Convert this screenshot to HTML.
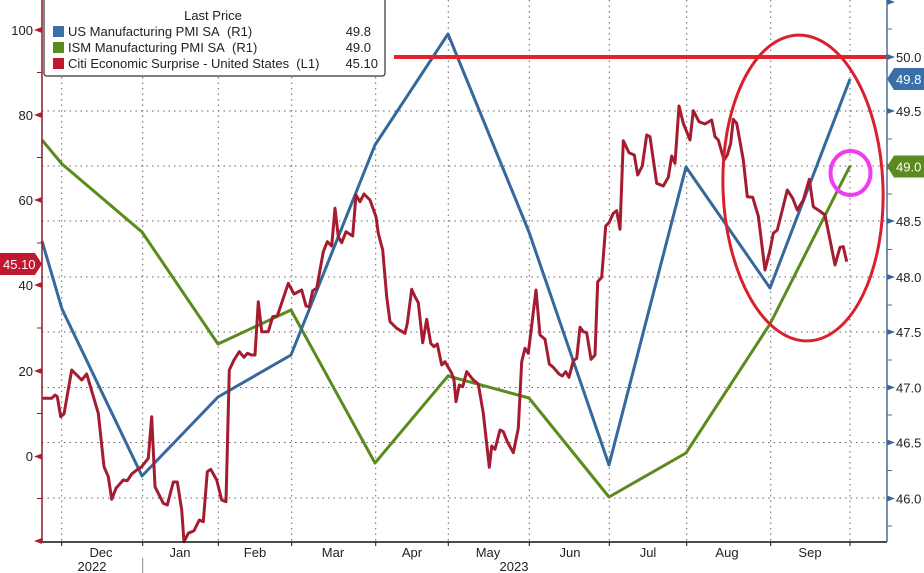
<!DOCTYPE html>
<html>
<head>
<meta charset="utf-8">
<style>
html,body{margin:0;padding:0;background:#fff;}
svg{display:block;font-family:"Liberation Sans","DejaVu Sans",sans-serif;}
</style>
</head>
<body>
<svg width="924" height="573" viewBox="0 0 924 573" xmlns="http://www.w3.org/2000/svg">
<rect width="924" height="573" fill="#fff"/>
<!-- vertical gridlines -->
<g stroke="#666" stroke-width="1" stroke-dasharray="1.5 4">
<line x1="61.7" y1="0" x2="61.7" y2="542"/>
<line x1="142.7" y1="0" x2="142.7" y2="542"/>
<line x1="218.3" y1="0" x2="218.3" y2="542"/>
<line x1="291.7" y1="0" x2="291.7" y2="542"/>
<line x1="375.7" y1="0" x2="375.7" y2="542"/>
<line x1="448.3" y1="0" x2="448.3" y2="542"/>
<line x1="529.3" y1="0" x2="529.3" y2="542"/>
<line x1="609.3" y1="0" x2="609.3" y2="542"/>
<line x1="686.7" y1="0" x2="686.7" y2="542"/>
<line x1="770.7" y1="0" x2="770.7" y2="542"/>
<line x1="850" y1="0" x2="850" y2="542"/>
</g>
<!-- horizontal gridlines -->
<g stroke="#666" stroke-width="1" stroke-dasharray="1.5 4">
<line x1="42" y1="111" x2="887" y2="111"/>
<line x1="42" y1="166" x2="887" y2="166"/>
<line x1="42" y1="221" x2="887" y2="221"/>
<line x1="42" y1="277" x2="887" y2="277"/>
<line x1="42" y1="332" x2="887" y2="332"/>
<line x1="42" y1="387.5" x2="887" y2="387.5"/>
<line x1="42" y1="442.5" x2="887" y2="442.5"/>
<line x1="42" y1="498" x2="887" y2="498"/>
</g>
<!-- green ISM -->
<polyline fill="none" stroke="#5b8a1e" stroke-width="3" stroke-linejoin="round"
points="42,140 62,164 142,232 218,344 291,310 375,463 448,376 529,398 609,497 686,453 770,324 850,166"/>
<!-- blue US PMI -->
<polyline fill="none" stroke="#35689c" stroke-width="3" stroke-linejoin="round"
points="42,241 62,309 142,476 218,397 291,355 375,145 448,34 529,232 609,465 686,167 770,288 850,79"/>
<!-- red Citi -->
<polyline fill="none" stroke="#a51c30" stroke-width="3" stroke-linejoin="round"
points="42.7,398.3 51.7,398.3 55,395 57.3,396.7 60.7,416.7 64,414 71.7,370 81.7,380 86.7,374 98.3,413.3 104,466.7 108.3,476.7 111.7,499.3 116,488.3 123.3,480 127.3,480.7 131.7,474 136.7,470 141.7,466.7 148.3,458.3 151.7,416.7 155,486.7 163.3,503.3 167.3,505 173.3,482 177.3,482 181.7,510 184,541.7 188.3,533.3 194,530.7 199.3,520 203.3,521.7 207.3,471.7 210.7,469.3 216.7,480 221.7,500 226,501.7 229.3,370 234,360 239.3,351.7 244,357.3 247.3,353.3 251.7,355 255,355 258.3,301.7 261.7,331.7 268.3,331.7 272.7,316.7 277.3,316 288.3,283.3 294,294 301.7,290 306,306 309.3,306.7 312.7,290.7 316.7,288.3 323.3,251.7 327.3,241.7 331.7,246 335,208.3 338.3,236.7 341.7,242.7 346,231.7 352.7,236 356,195 360,201.7 364,194 370,200 376,216.7 378.3,233.3 382.7,250 386.7,296.7 390,321.7 396.7,328.3 405,333.3 407.3,323.3 411.7,289.3 415,296.7 418.3,302.7 422.7,342.7 426.7,319.3 430.7,343.3 434,346.7 437.3,344 441.7,365 445,361.7 451.7,373.3 454,380 456,401.7 459.3,385 462.7,386.7 466.7,371.7 472.7,379.3 478.3,384 483.3,413.3 489.3,467.3 491.7,446 495,449.3 500,430 503.3,431.7 507.3,441.7 513.3,452.7 518.3,428.3 521.7,361.7 525,348.3 528.3,353.3 536,290 540,335 545,339.3 549.3,364 553.3,367.3 559,374 562.3,376 565.7,371.7 569,377.3 573.3,360.7 576.7,358.3 580,327.3 583.3,331.7 586.7,332.7 591,359.3 595,355 597.7,281.7 601.7,277.3 605.7,226 609,222.7 613.3,213.3 616.7,210.7 620,229.3 623.3,140.7 629,152.7 634.3,155 637.7,175 642.3,166 646.7,135 650,136.7 656.7,183.3 663.3,186 668.3,177.3 671.7,156 675,163.3 679,106 683.3,123.3 690,140 693.3,110.7 699,121.7 705,124 711.7,120 715,136.7 718.3,140 724,160 727.3,155 730.7,143.3 733.3,119.3 736.7,123.3 743.3,160 747.3,196.7 752.7,197.3 758.3,216 765,270 770,250 773.3,233.3 777.3,230 787.3,190 792.7,198.3 797.3,210 803.3,200 809.3,179.3 813.3,206.7 819.3,210.7 825,215 830.7,243.3 835,265 840,247.3 843.3,246.7 846.7,261.7"/>
<!-- red 50 line -->
<line x1="394" y1="57" x2="889" y2="57" stroke="#e8202a" stroke-width="4"/>
<!-- ellipse annotation -->
<ellipse cx="803" cy="188" rx="80" ry="153" fill="none" stroke="#d8202e" stroke-width="3" transform="rotate(-2 803 188)"/>
<!-- magenta circle -->
<ellipse cx="850.5" cy="173" rx="20" ry="22" fill="none" stroke="#ee3cee" stroke-width="4"/>
<!-- bottom axis -->
<line x1="42" y1="542" x2="887" y2="542" stroke="#111" stroke-width="1.5"/>
<g stroke="#111" stroke-width="1">
<line x1="61.7" y1="542" x2="61.7" y2="546"/>
<line x1="142.7" y1="542" x2="142.7" y2="546"/>
<line x1="218.3" y1="542" x2="218.3" y2="546"/>
<line x1="291.7" y1="542" x2="291.7" y2="546"/>
<line x1="375.7" y1="542" x2="375.7" y2="546"/>
<line x1="448.3" y1="542" x2="448.3" y2="546"/>
<line x1="529.3" y1="542" x2="529.3" y2="546"/>
<line x1="609.3" y1="542" x2="609.3" y2="546"/>
<line x1="686.7" y1="542" x2="686.7" y2="546"/>
<line x1="770.7" y1="542" x2="770.7" y2="546"/>
<line x1="850" y1="542" x2="850" y2="546"/>
</g>
<line x1="142.7" y1="558" x2="142.7" y2="573" stroke="#888" stroke-width="1"/>
<g font-size="13" fill="#222" text-anchor="middle">
<text x="101" y="557">Dec</text>
<text x="180" y="557">Jan</text>
<text x="255" y="557">Feb</text>
<text x="333" y="557">Mar</text>
<text x="412" y="557">Apr</text>
<text x="488" y="557">May</text>
<text x="570" y="557">Jun</text>
<text x="648" y="557">Jul</text>
<text x="727" y="557">Aug</text>
<text x="810" y="557">Sep</text>
<text x="92" y="571">2022</text>
<text x="514" y="571">2023</text>
</g>
<!-- left axis -->
<line x1="42" y1="0" x2="42" y2="542" stroke="#8c1d2b" stroke-width="1.5"/>
<g fill="#b01c30">
<polygon points="34,30 42,27 42,33"/>
<polygon points="34,115 42,112 42,118"/>
<polygon points="34,200 42,197 42,203"/>
<polygon points="34,285 42,282 42,288"/>
<polygon points="34,371 42,368 42,374"/>
<polygon points="34,456.5 42,453.5 42,459.5"/>
<polygon points="34,541 42,538 42,544"/>
</g>
<g stroke="#8c1d2b" stroke-width="1">
<line x1="37" y1="72.5" x2="42" y2="72.5"/>
<line x1="37" y1="157.5" x2="42" y2="157.5"/>
<line x1="37" y1="243" x2="42" y2="243"/>
<line x1="37" y1="328" x2="42" y2="328"/>
<line x1="37" y1="413.5" x2="42" y2="413.5"/>
<line x1="37" y1="498.5" x2="42" y2="498.5"/>
</g>
<g font-size="13" fill="#222" text-anchor="end">
<text x="33" y="35">100</text>
<text x="33" y="120">80</text>
<text x="33" y="205">60</text>
<text x="33" y="290">40</text>
<text x="33" y="376">20</text>
<text x="33" y="461">0</text>
</g>
<!-- right axis -->
<line x1="887" y1="0" x2="887" y2="542" stroke="#4d6f94" stroke-width="1.5"/>
<g fill="#35689c">
<polygon points="895,2 887,-1 887,5"/>
<polygon points="895,57 887,54 887,60"/>
<polygon points="895,111 887,108 887,114"/>
<polygon points="895,166.5 887,163.5 887,169.5"/>
<polygon points="895,221 887,218 887,224"/>
<polygon points="895,277 887,274 887,280"/>
<polygon points="895,332 887,329 887,335"/>
<polygon points="895,387.5 887,384.5 887,390.5"/>
<polygon points="895,442.5 887,439.5 887,445.5"/>
<polygon points="895,498.5 887,495.5 887,501.5"/>
</g>
<g stroke="#4d6f94" stroke-width="1">
<line x1="887" y1="29" x2="892" y2="29"/>
<line x1="887" y1="139" x2="892" y2="139"/>
<line x1="887" y1="194" x2="892" y2="194"/>
<line x1="887" y1="249.5" x2="892" y2="249.5"/>
<line x1="887" y1="305" x2="892" y2="305"/>
<line x1="887" y1="360" x2="892" y2="360"/>
<line x1="887" y1="415" x2="892" y2="415"/>
<line x1="887" y1="470.5" x2="892" y2="470.5"/>
<line x1="887" y1="526" x2="892" y2="526"/>
</g>
<g font-size="13" fill="#222">
<text x="896" y="62">50.0</text>
<text x="896" y="116">49.5</text>
<text x="896" y="226">48.5</text>
<text x="896" y="282">48.0</text>
<text x="896" y="337">47.5</text>
<text x="896" y="392.5">47.0</text>
<text x="896" y="447.5">46.5</text>
<text x="896" y="503.5">46.0</text>
</g>
<!-- right tags -->
<polygon points="887,79 894,68 924,68 924,90 894,90" fill="#3a6fa8"/>
<text x="896" y="84" font-size="13" fill="#fff">49.8</text>
<polygon points="887,166.5 894,155.5 924,155.5 924,177.5 894,177.5" fill="#5b8a1e"/>
<text x="896" y="171.5" font-size="13" fill="#fff">49.0</text>
<!-- left tag -->
<polygon points="0,253 35,253 42,264 35,275 0,275" fill="#c0182e"/>
<text x="3" y="269" font-size="13" fill="#fff">45.10</text>
<!-- legend -->
<path d="M44,-2 L44,73 Q44,76 47,76 L382,76 Q385,76 385,73 L385,-2 Z" fill="#fff" stroke="#333" stroke-width="1.2"/>
<text x="213" y="20" font-size="13" fill="#222" text-anchor="middle">Last Price</text>
<rect x="53" y="26" width="11" height="11" fill="#3a6fa8"/>
<rect x="53" y="42" width="11" height="11" fill="#5b8a1e"/>
<rect x="53" y="58" width="11" height="11" fill="#c0182e"/>
<g font-size="13" fill="#222">
<text x="68" y="36">US Manufacturing PMI SA&#160; (R1)</text>
<text x="68" y="52">ISM Manufacturing PMI SA&#160; (R1)</text>
<text x="68" y="68">Citi Economic Surprise - United States&#160; (L1)</text>
</g>
<g font-size="13" fill="#222" text-anchor="end">
<text x="371" y="36">49.8</text>
<text x="371" y="52">49.0</text>
<text x="378" y="68">45.10</text>
</g>
</svg>
</body>
</html>
